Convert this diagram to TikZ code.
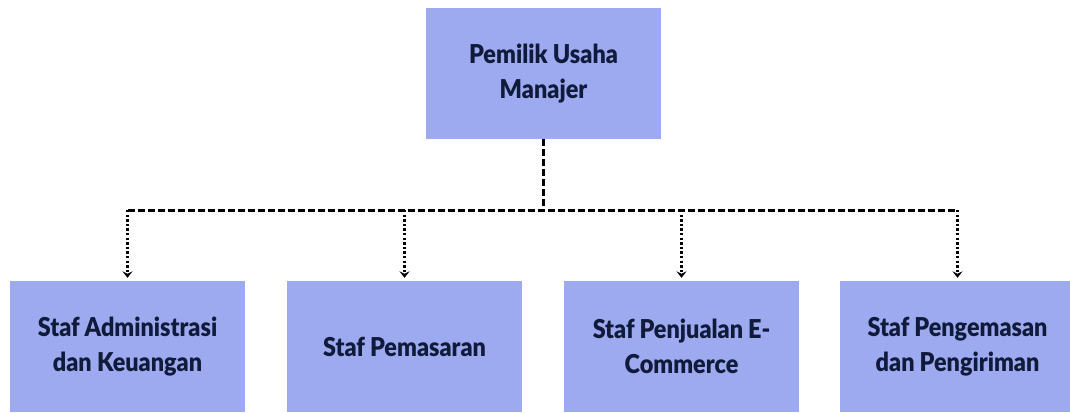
\documentclass[tikz,border=0pt]{standalone}
\usepackage{fontspec}
\setmainfont{Lato}[FakeStretch=0.9, BoldFont={Lato Black}]
\usetikzlibrary{arrows.meta}
\definecolor{boxblue}{HTML}{9DAAEF}
\definecolor{txtnavy}{HTML}{101A3A}
\newcommand\tightsp{\spaceskip 4.5pt plus 1pt minus 1pt\relax}
\begin{document}
\begin{tikzpicture}[x=1pt,y=-1pt,
  orgbox/.style={fill=boxblue, draw=none, minimum width=235pt, minimum height=131pt,
    inner sep=0pt, text width=225pt, align=center,
    font=\fontsize{26}{35}\selectfont\bfseries, text=txtnavy},
  busline/.style={line width=3pt, dash pattern=on 7pt off 3pt},
  dropline/.style={line width=3pt, dash pattern=on 2.4pt off 2.2pt,
    -{Stealth[length=6.5pt,width=10pt,inset=2.5pt]}, shorten >=3pt}]
\useasboundingbox (0,0) rectangle (1070,412);
\node[orgbox] (top) at (543.5,73.5) {\tightsp Pemilik Usaha\\Manajer};
\node[orgbox] (b1) at (127.5,346.5) {\tightsp Staf Administrasi\\dan Keuangan};
\node[orgbox] (b2) at (404.5,346.5) {\tightsp Staf Pemasaran};
\node[orgbox] (b3) at (681.5,346.5) {\tightsp Staf Penjualan E-\\Commerce};
\node[orgbox] (b4) at (957.5,346.5) {\tightsp Staf Pengemasan\\dan Pengiriman};
\coordinate (bus) at (543.5,210);
\draw[busline] (top.south) -- (bus);
\draw[busline] (b1.north |- bus) -- (b4.north |- bus);
\foreach \b in {b1,b2,b3,b4}
  \draw[dropline] (\b.north |- bus) -- (\b.north);
\end{tikzpicture}
\end{document}
